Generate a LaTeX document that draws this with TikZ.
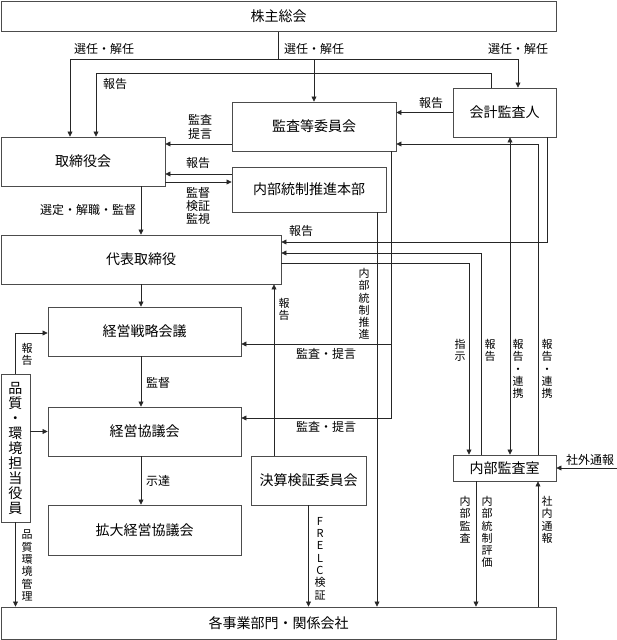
\documentclass[tikz,border=0pt]{standalone}
\usepackage{fontspec}
\setmainfont{Noto Sans CJK JP}
\usetikzlibrary{arrows.meta}

\newcommand{\boxfont}{\fontsize{14}{15}\selectfont}
\newcommand{\labfont}{\fontsize{12}{13}\selectfont}
\newcommand{\vlabfont}{\fontsize{11}{12.3}\selectfont}

\begin{document}
\begin{tikzpicture}[x=1pt, y=-1pt,
		box/.style={draw=black!70, line width=0.9pt, inner sep=0pt, font=\boxfont},
		lab/.style={font=\labfont, inner sep=0pt, align=center},
		vlab/.style={lab, font=\vlabfont, anchor=north},
		line/.style={draw=black!85, line width=0.7pt},
		flow/.style={line, -{Triangle[length=5pt, width=5pt]}},
		flowboth/.style={line, {Triangle[length=5pt, width=5pt]}-{Triangle[length=5pt, width=5pt]}}]
	\useasboundingbox (0,0) rectangle (617,640);
	% boxes
	\node[box, minimum width=555pt, minimum height=30pt] (kabunushi) at (278.5,16.5) {株主総会};
	\node[box, minimum width=103pt, minimum height=49pt] (kaikei) at (504.5,112.5) {会計監査人};
	\node[box, minimum width=164pt, minimum height=49pt] (kansa) at (314,126.5) {監査等委員会};
	\node[box, minimum width=164pt, minimum height=49pt] (torishimari) at (83,161.5) {取締役会};
	\node[box, minimum width=154pt, minimum height=45pt] (naibu) at (309,189.5) {内部統制推進本部};
	\node[box, minimum width=280pt, minimum height=49pt] (daihyo) at (141,259.5) {代表取締役};
	\node[box, minimum width=193pt, minimum height=49pt] (senryaku) at (144.5,331.5) {経営戦略会議};
	\node[box, minimum width=193pt, minimum height=49pt] (kyogi) at (144.5,431.5) {経営協議会};
	\node[box, minimum width=29pt, minimum height=148pt, align=center] (hinshitsu) at (15.5,448) {品\\質\\・\\環\\境\\担\\当\\役\\員};
	\node[box, minimum width=115pt, minimum height=49pt] (kessan) at (308.5,480.5) {決算検証委員会};
	\node[box, minimum width=193pt, minimum height=50pt] (kakudai) at (144.5,530) {拡大経営協議会};
	\node[box, minimum width=103pt, minimum height=26pt] (naibukansa) at (504.5,468) {内部監査室};
	\node[box, minimum width=555pt, minimum height=32pt] (jigyo) at (278.5,623) {各事業部門・関係会社};

	% columns and rows of the connectors
	\coordinate (selL) at (70,59);
	\coordinate (selR) at (518,59);
	\coordinate (repL) at (96,73);
	\coordinate (repR) at (491,73);
	\coordinate (kansaline) at (391,344);
	\coordinate (kyogirow) at (0,418);
	\coordinate (naibuline) at (377,0);
	\coordinate (kessanline) at (274,0);
	\coordinate (hinrow) at (0,333);
	\coordinate (rowA) at (0,144);
	\coordinate (rowB) at (0,174);
	\coordinate (rowC) at (0,182);
	\coordinate (rowD) at (0,242);
	\coordinate (rowE) at (0,253);
	\coordinate (rowF) at (0,263);
	\coordinate (colshiji) at (469,0);
	\coordinate (colhokoku) at (481,0);
	\coordinate (colkansa) at (476,0);
	\coordinate (colrenkei) at (510,0);
	\coordinate (colnaibu) at (538,0);
	\coordinate (colkaikei) at (547,0);
	\coordinate (gaibu) at (617,468);

	% election
	\draw[line] (kabunushi.south) -- (kabunushi.south |- selL);
	\draw[line] (selL) -- (selR);
	\draw[flow] (selL) -- (selL |- torishimari.north);
	\draw[flow] (kansa.north |- selL) -- (kansa.north);
	\draw[flow] (selR) -- (selR |- kaikei.north);
	\node[lab] at (104,49) {選任・解任};
	\node[lab] at (314,49) {選任・解任};
	\node[lab] at (518,49) {選任・解任};

	\draw[flow] (repR |- kaikei.north) -- (repR) -- (repL) -- (repL |- torishimari.north);
	\node[lab] at (115,84) {報告};
	\draw[flow] (kaikei.west) -- (kaikei.west -| kansa.east);
	\node[lab] at (431,103) {報告};

	% board
	\draw[flow] (kansa.west |- rowA) -- (torishimari.east |- rowA);
	\node[lab] at (200,127) {監査\\[1pt]提言};
	\draw[flow] (naibu.west |- rowB) -- (torishimari.east |- rowB);
	\node[lab] at (198,163) {報告};
	\draw[flow] (torishimari.east |- rowC) -- (naibu.west |- rowC);
	\node[vlab, font=\labfont] at (198,187) {監督\\検証\\監視};
	\draw[flow] (torishimari.south -| daihyo.north) -- (daihyo.north);
	\node[lab] at (88,210) {選定・解職・監督};

	% management chain
	\draw[flow] (daihyo.south) -- (daihyo.south |- senryaku.north);
	\draw[flow] (daihyo.south |- senryaku.south) -- (daihyo.south |- kyogi.north);
	\node[lab, anchor=west] at (146,383) {監督};
	\draw[flow] (daihyo.south |- kyogi.south) -- (daihyo.south |- kakudai.north);
	\node[lab, anchor=west] at (146,481) {示達};

	\draw[flow] (hinshitsu.north) |- (senryaku.west |- hinrow);
	\node[vlab] at (27,343) {報\\告};
	\draw[flow] (hinshitsu.east |- kyogi.west) -- (kyogi.west);
	\draw[flow] (hinshitsu.south) -- (hinshitsu.south |- jigyo.north);
	\node[vlab] at (27,530) {品\\質\\環\\境\\管\\理};

	% audit committee
	\draw[flow] (kansa.south -| kansaline) |- (kyogi.east |- kyogirow);
	\draw[flow] (kansaline) -- (kansaline -| senryaku.east);
	\node[lab] at (326,354) {監査・提言};
	\node[lab] at (326,427) {監査・提言};

	\draw[flow] (naibu.south -| naibuline) -- (naibuline |- jigyo.north);
	\node[vlab] at (364,268) {内\\部\\統\\制\\推\\進};

	\draw[flow] (kessan.north -| kessanline) -- (kessanline |- daihyo.south);
	\node[vlab] at (284,298) {報\\告};
	\draw[flow] (kessan.south) -- (kessan.south |- jigyo.north);
	\node[vlab] at (320,517) {F\\R\\E\\L\\C\\検\\証};

	% internal audit
	\draw[flow] (kaikei.south -| colkaikei) |- (daihyo.east |- rowD);
	\node[lab] at (301,231) {報告};
	\draw[flow] (naibukansa.north -| colhokoku) |- (daihyo.east |- rowE);
	\draw[flow] (daihyo.east |- rowF) -| (naibukansa.north -| colshiji);
	\draw[flowboth] (naibukansa.north -| colrenkei) -- (kaikei.south -| colrenkei);
	\draw[flow] (naibukansa.north -| colnaibu) |- (kansa.east |- rowA);
	\node[vlab] at (460,339) {指\\示};
	\node[vlab] at (490,339) {報\\告};
	\node[vlab] at (518,339) {報\\告\\・\\連\\携};
	\node[vlab] at (547,339) {報\\告\\・\\連\\携};

	\draw[flow] (gaibu) -- (naibukansa.east);
	\node[lab] at (590,460) {社外通報};
	\draw[flow] (naibukansa.south -| colkansa) -- (colkansa |- jigyo.north);
	\node[vlab] at (465,496) {内\\部\\監\\査};
	\node[vlab] at (487,496) {内\\部\\統\\制\\評\\価};
	\draw[flow] (jigyo.north -| colnaibu) -- (colnaibu |- naibukansa.south);
	\node[vlab] at (547,496) {社\\内\\通\\報};
\end{tikzpicture}
\end{document}
